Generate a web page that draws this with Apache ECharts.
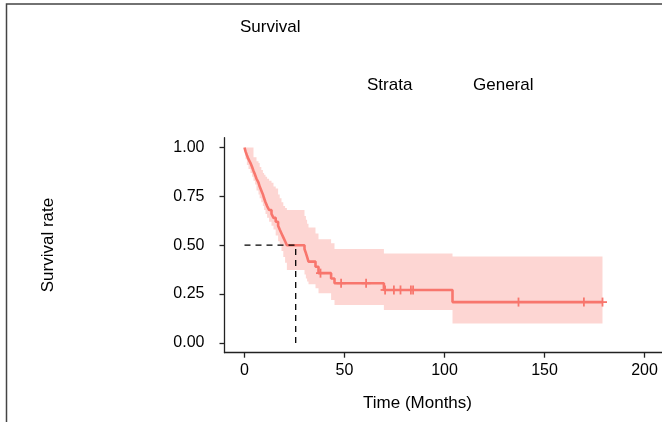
<!DOCTYPE html>
<html>
<head>
<meta charset="utf-8">
<script src="https://cdn.jsdelivr.net/npm/echarts@6/dist/echarts.min.js"></script>
<style>
  html, body { margin: 0; padding: 0; background: #fff; }
  #chart { width: 662px; height: 422px; }
</style>
</head>
<body>
<div id="chart"></div>
<script>
// Kaplan-Meier estimate (months / survival probability)
var eventTimes = [0, 0.5, 1.2, 2.0, 3.0, 3.8, 4.5, 5.3, 6.0, 7.0,
                  7.6, 8.4, 9.2, 9.8, 10.5, 11.3, 12.3, 13.5, 14.5, 15.6,
                  16.8, 17.6, 18.5, 19.4, 20.3, 21.2,
                  30.0, 30.7, 31.3, 32.0, 35.5, 37.0, 43.3, 45.0, 69.7, 104.0];
var survival   = [1, .98, .96, .94, .92, .90, .88, .86, .84, .82,
                  .80, .78, .76, .74, .72, .70, .68, .66, .64, .62,
                  .60, .58, .56, .54, .52, .50,
                  .48, .46, .44, .416, .39, .357, .33, .305, .271, .209];
var upperCI    = [1, 1, 1, 1, 1, 1, .95, .95, .93, .92,
                  .90, .885, .87, .86, .85, .84, .83, .82, .80, .79,
                  .76, .74, .72, .70, .69, .68,
                  .65, .63, .61, .59, .56, .53, .51, .48, .457, .442];
var lowerCI    = [1, .94, .91, .89, .87, .85, .83, .81, .78, .76,
                  .74, .72, .70, .68, .66, .64, .62, .60, .58, .55,
                  .52, .50, .47, .44, .41, .373,
                  .35, .33, .314, .30, .28, .254, .22, .194, .169, .10];
var lastTime = 179;
var censorTimes = [38, 48.3, 60.8, 70.3, 74.7, 78, 83.2, 84.3, 137, 169.7, 179];
var medianTime = 25.6;
var medianSurv = 0.5;

var xTicks = [0, 50, 100, 150, 200];
var yTicks = [0, 0.25, 0.5, 0.75, 1];

var red = '#F8766D';
var font = "'Liberation Sans', Arial, sans-serif";

function survAt(t) {
  var s = survival[0];
  for (var i = 0; i < eventTimes.length; i++) {
    if (eventTimes[i] <= t) s = survival[i];
  }
  return s;
}

var kmLine = eventTimes.map(function (t, i) { return [t, survival[i]]; });
kmLine.push([lastTime, survival[survival.length - 1]]);

var censorData = censorTimes.map(function (t) { return [t, survAt(t)]; });

var myChart = echarts.init(document.getElementById('chart'), null, { renderer: 'canvas' });

myChart.setOption({
  animation: false,
  backgroundColor: '#fff',
  grid: {
    left: 224.5,
    top: 137.7,
    width: 440,
    height: 215,
    outerBoundsMode: 'none'
  },
  xAxis: {
    type: 'value',
    min: -10,
    max: 210,
    splitLine: { show: false },
    axisLine: { onZero: false, lineStyle: { color: '#222', width: 1.3 } },
    axisTick: { customValues: xTicks, length: 5, lineStyle: { color: '#222', width: 1.3 } },
    axisLabel: {
      customValues: xTicks,
      margin: 10,
      color: '#000',
      fontSize: 16,
      fontFamily: font
    }
  },
  yAxis: {
    type: 'value',
    min: -0.05,
    max: 1.05,
    splitLine: { show: false },
    axisLine: { show: true, onZero: false, lineStyle: { color: '#222', width: 1.3 } },
    axisTick: { show: true, customValues: yTicks, length: 5, lineStyle: { color: '#222', width: 1.3 } },
    axisLabel: {
      customValues: yTicks,
      margin: 20,
      color: '#000',
      fontSize: 16,
      fontFamily: font,
      formatter: function (v) { return v.toFixed(2); }
    }
  },
  graphic: [
    { type: 'polyline', shape: { points: [[6.5, 422], [6.5, 4], [662, 4]] },
      style: { stroke: '#444', lineWidth: 1.5, fill: null }, z: 10 },
    { type: 'text', x: 240, y: 27,
      style: { text: 'Survival', font: '17px ' + font, fill: '#000', textAlign: 'left', textVerticalAlign: 'middle' } },
    { type: 'text', x: 367, y: 85,
      style: { text: 'Strata', font: '17px ' + font, fill: '#000', textAlign: 'left', textVerticalAlign: 'middle' } },
    { type: 'text', x: 473, y: 85,
      style: { text: 'General', font: '17px ' + font, fill: '#000', textAlign: 'left', textVerticalAlign: 'middle' } },
    { type: 'text', x: 417.5, y: 403,
      style: { text: 'Time (Months)', font: '17px ' + font, fill: '#000', textAlign: 'center', textVerticalAlign: 'middle' } },
    { type: 'text', x: 48, y: 245, rotation: Math.PI / 2,
      style: { text: 'Survival rate', font: '17px ' + font, fill: '#000', textAlign: 'center', textVerticalAlign: 'middle' } }
  ],
  series: [
    {
      // confidence band as a step polygon
      type: 'custom',
      z: 1,
      silent: true,
      data: [[0, 0]],
      renderItem: function (params, api) {
        var n = eventTimes.length;
        var pts = [];
        for (var i = 0; i < n; i++) {
          var xn = i < n - 1 ? eventTimes[i + 1] : lastTime;
          pts.push(api.coord([eventTimes[i], upperCI[i]]));
          pts.push(api.coord([xn, upperCI[i]]));
        }
        for (var j = n - 1; j >= 0; j--) {
          var xn2 = j < n - 1 ? eventTimes[j + 1] : lastTime;
          pts.push(api.coord([xn2, lowerCI[j]]));
          pts.push(api.coord([eventTimes[j], lowerCI[j]]));
        }
        return { type: 'polygon', shape: { points: pts }, style: { fill: 'rgba(248,118,109,0.3)' } };
      }
    },
    {
      type: 'line',
      z: 3,
      step: 'end',
      showSymbol: false,
      data: kmLine,
      lineStyle: { color: red, width: 2.6 }
    },
    {
      // censor marks "+"
      type: 'custom',
      z: 4,
      silent: true,
      data: censorData,
      renderItem: function (params, api) {
        var p = api.coord([api.value(0), api.value(1)]);
        var h = 4.5;
        var st = { stroke: red, lineWidth: 1.8 };
        return {
          type: 'group',
          children: [
            { type: 'line', shape: { x1: p[0], y1: p[1] - h, x2: p[0], y2: p[1] + h }, style: st },
            { type: 'line', shape: { x1: p[0] - h, y1: p[1], x2: p[0] + h, y2: p[1] }, style: st }
          ]
        };
      }
    },
    {
      type: 'line',
      z: 5,
      showSymbol: false,
      data: [[0, medianSurv], [medianTime, medianSurv], [medianTime, 0]],
      lineStyle: { color: '#000', width: 1.3, type: [6, 5] }
    }
  ]
});
</script>
</body>
</html>
